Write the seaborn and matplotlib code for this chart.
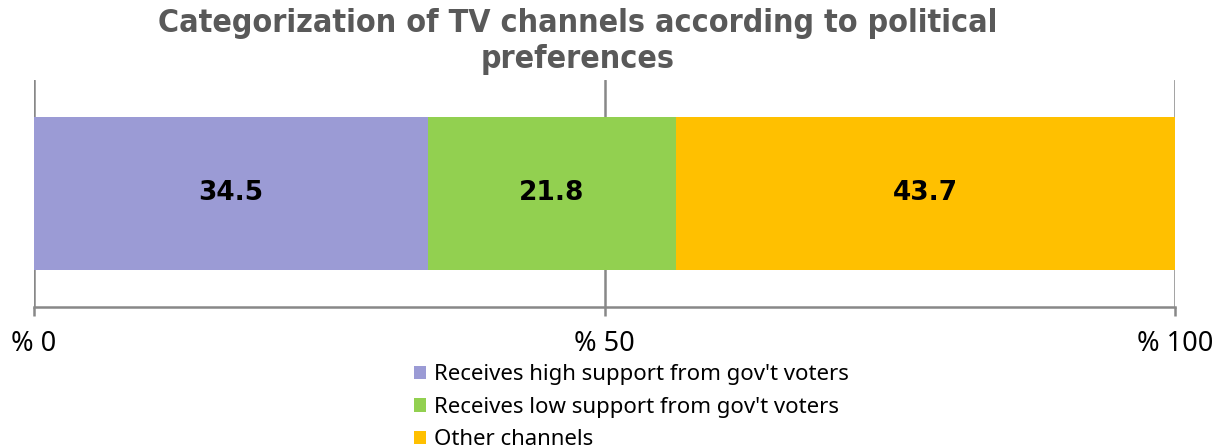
import matplotlib
matplotlib.use("Agg")
import matplotlib.pyplot as plt
from matplotlib.patches import Patch
import numpy as np
import pandas as pd
import seaborn as sns

# Shares of TV channels by political preference of their audience (%)
categories = [
    "Receives high support from gov't voters",
    "Receives low support from gov't voters",
    "Other channels",
]
shares = [34.5, 21.8, 43.7]
colors = ["#9B9BD5", "#92D050", "#FFC000"]
tick_values = [0, 50, 100]
tick_labels = ["% 0", "% 50", "% 100"]
title = "Categorization of TV channels according to political\npreferences"

sns.set_theme(style="white")
plt.rcParams["font.family"] = ["Noto Sans", "DejaVu Sans"]

fig = plt.figure(figsize=(12.31, 4.48), dpi=100)
ax = fig.add_axes([34 / 1231, 1 - 307 / 448, (1175 - 34) / 1231, 227 / 448])

# Stacked horizontal bar: draw cumulative totals from the largest down
cum = np.cumsum(shares)
starts = cum - np.array(shares)
for i in reversed(range(len(shares))):
    df = pd.DataFrame({"value": [cum[i]], "row": ["all"]})
    sns.barplot(data=df, x="value", y="row", orient="h", color=colors[i],
                width=0.67, saturation=1, ax=ax, edgecolor="none", linewidth=0)

for s, v in zip(starts, shares):
    ax.text(s + v / 2, 0, f"{v}", ha="center", va="center",
            fontsize=19, fontweight="heavy", color="black",
            family="DejaVu Sans")

ax.set_xlim(0, 100)
ax.set_ylim(0.5, -0.5)
ax.set_xticks(tick_values)
ax.set_xticklabels(tick_labels, fontsize=19.5, color="black")
ax.set_yticks([])
ax.set_xlabel("")
ax.set_ylabel("")
for x in tick_values:
    ax.axvline(x, color="#888888", lw=1.8, zorder=0)
for side in ["top", "left", "right"]:
    ax.spines[side].set_visible(False)
ax.spines["bottom"].set_color("#888888")
ax.spines["bottom"].set_linewidth(1.8)
ax.tick_params(axis="x", direction="out", length=6.5, width=1.8,
               color="#888888", pad=10, bottom=True)

fig.text(578 / 1231, 1 - 8 / 448, title, ha="center", va="top",
         fontsize=23, fontweight="heavy", color="#595959",
         family="DejaVu Sans", fontstretch="condensed", linespacing=1.22)

handles = [Patch(facecolor=c, edgecolor="none") for c in colors]
leg = fig.legend(handles, categories, loc="upper left",
                 bbox_to_anchor=(403 / 1231, 1 - 353 / 448), frameon=False,
                 fontsize=16, handlelength=0.55, handleheight=0.55,
                 handletextpad=0.35, labelspacing=0.52, borderpad=0)
for t in leg.get_texts():
    t.set_color("black")

fig.savefig("out.png", dpi=100)
